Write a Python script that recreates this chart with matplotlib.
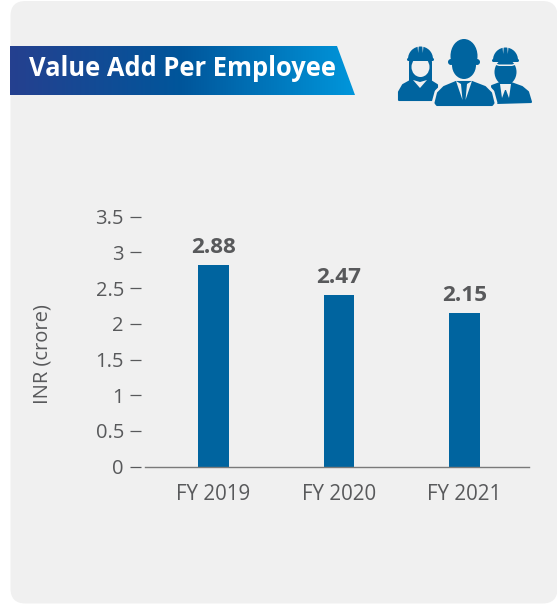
import numpy as np
import matplotlib
matplotlib.use("Agg")
import matplotlib.pyplot as plt
from matplotlib.colors import LinearSegmentedColormap
from matplotlib.patches import Ellipse, FancyBboxPatch, Polygon, Wedge, Circle

plt.rcParams['font.family'] = ['Open Sans', 'DejaVu Sans']

# dados
categorias = ["FY 2019", "FY 2020", "FY 2021"]
alturas = [2.82, 2.40, 2.15]  # altura desenhada das barras
rotulos = ["2.88", "2.47", "2.15"]
ticks_y = [0, 0.5, 1, 1.5, 2, 2.5, 3, 3.5]
ticks_y_txt = ["0", "0.5", "1", "1.5", "2", "2.5", "3", "3.5"]

W, H = 557, 604
AZUL = "#00649f"
CINZA = "#58595b"
FUNDO = "#f0f0f0"

fig = plt.figure(figsize=(W / 100, H / 100), dpi=100, facecolor="white")

# camada de fundo em pixels
bg = fig.add_axes([0, 0, 1, 1])
bg.axis("off")
bg.add_patch(FancyBboxPatch((10.5, 1), 547, 602.5, boxstyle="round,pad=0,rounding_size=15",
                            fc=FUNDO, ec="none"))

# faixa do titulo com gradiente
cmap = LinearSegmentedColormap.from_list("faixa", ["#25408f", "#00569b", "#0096db"])
img = bg.imshow(np.linspace(0, 1, 256).reshape(1, -1), extent=(10, 355, 95, 46), cmap=cmap, aspect="auto", zorder=2)
faixa = Polygon([(10, 46), (337, 46), (355, 95), (10, 95)], transform=bg.transData, fc="none", ec="none")
bg.add_patch(faixa)
img.set_clip_path(faixa)
bg.set_xlim(0, W)
bg.set_ylim(H, 0)
bg.text(29, 69, "Value Add Per Employee", color="white", fontsize=18.4, fontweight="bold",
        va="center", ha="left", zorder=3)


def azul(pts, z=3):
    bg.add_patch(Polygon(pts, fc=AZUL, ec=AZUL, lw=1.5, joinstyle="round", zorder=z))


def claro(pts, z=3):
    bg.add_patch(Polygon(pts, fc=FUNDO, ec="none", zorder=z))


def capacete(cx, yb):
    # cupula, aba e os dois frisos
    bg.add_patch(Wedge((cx, yb), 12.5, 180, 360, fc=AZUL, ec="none", zorder=3.6))
    bg.add_patch(FancyBboxPatch((cx - 13.5, yb - 1), 27, 3, boxstyle="round,pad=0,rounding_size=1.5",
                                fc=AZUL, ec="none", zorder=3.6))
    claro([(cx - 3, yb - 13), (cx - 1.8, yb - 13), (cx - 2.3, yb - 6)], 4)
    claro([(cx + 3, yb - 13), (cx + 1.8, yb - 13), (cx + 2.3, yb - 6)], 4)


# icone - mulher
capacete(420.5, 59)
bg.add_patch(FancyBboxPatch((409, 60), 23, 22, boxstyle="round,pad=0,rounding_size=2", fc=AZUL, ec="none", zorder=3))
bg.add_patch(Ellipse((420.5, 67), 18, 20, fc=FUNDO, ec="none", zorder=3))
azul([(399, 100), (399, 92), (403, 85), (412, 80), (420, 84), (429, 80), (437, 85), (437, 100)])
claro([(413, 80), (420, 82), (427, 80), (420, 88)])

# icone - homem de capacete
capacete(505.5, 60)
bg.add_patch(Ellipse((505.5, 72), 22, 26, fc=AZUL, ec="none", zorder=2.9))
claro([(493, 62.5), (499, 64.5), (512, 64.5), (518, 62.5), (518, 64), (512, 66), (499, 66), (493, 64)], 3.7)
azul([(492, 86), (500, 83), (511, 83), (522, 87), (528, 92), (531, 102), (495, 103)])
claro([(500, 84), (511, 84), (509, 98), (506, 90), (505, 90), (502, 98)], 3.5)

# icone - homem do meio (borda clara separa das outras figuras)
bg.add_patch(Polygon([(434, 103), (437, 92), (443, 86), (456, 81), (472, 81), (486, 86), (492, 92),
                      (495, 103), (493, 106), (436, 106)],
                     fc=AZUL, ec=FUNDO, lw=3.5, joinstyle="round", zorder=4))
azul([(435.5, 103), (438, 93), (444, 87), (456, 82), (472, 82), (485, 87), (491, 93), (493.5, 103),
      (492, 105), (437, 105)], 4.1)
bg.add_patch(Ellipse((464, 56), 27, 34, fc=AZUL, ec="none", zorder=4))
bg.add_patch(Ellipse((464, 65), 24, 28, fc=AZUL, ec="none", zorder=4))
bg.add_patch(Circle((451, 62), 3, fc=AZUL, ec="none", zorder=4))
bg.add_patch(Circle((477, 62), 3, fc=AZUL, ec="none", zorder=4))
claro([(456, 81), (461, 84), (462.5, 100)], 5)
claro([(472, 81), (467, 84), (465.5, 100)], 5)

# grafico de barras
px0, px1 = 141, 529
px_base = 145
py0, py1 = 466.7, 216.7
x_px = lambda p: (p - 213.5) / 125.5
ax = fig.add_axes([px0 / W, 1 - py0 / H, (px1 - px0) / W, (py0 - py1) / H])
ax.patch.set_alpha(0)
x = np.arange(len(categorias))
ax.bar(x, alturas, width=0.247, color=AZUL, zorder=2)
for xi, h, r in zip(x, alturas, rotulos):
    ax.text(xi, h + 0.17, r, ha="center", va="baseline", fontsize=16.2, fontweight="bold", color=CINZA)

ax.set_xlim(x_px(px0), x_px(px1))
ax.set_ylim(0, 3.5)
ax.set_yticks(ticks_y, ticks_y_txt)
ax.set_xticks(x, categorias)
ax.tick_params(axis="y", length=8, width=0.9, pad=4.3, color=CINZA, labelcolor=CINZA, labelsize=14.5)
ax.tick_params(axis="x", length=0, pad=12.5, labelcolor=CINZA, labelsize=14.8)
for lado in ["top", "right", "left"]:
    ax.spines[lado].set_visible(False)
ax.spines["bottom"].set_color("#7a7a7a")
ax.spines["bottom"].set_linewidth(1.0)
ax.spines["bottom"].set_bounds(x_px(px_base), x_px(px1))
fig.text(42.5 / W, 1 - 354 / H, "INR (crore)", rotation=90, ha="center", va="center", fontsize=14.5, color=CINZA)

fig.savefig("out.png", dpi=100, facecolor="white")
